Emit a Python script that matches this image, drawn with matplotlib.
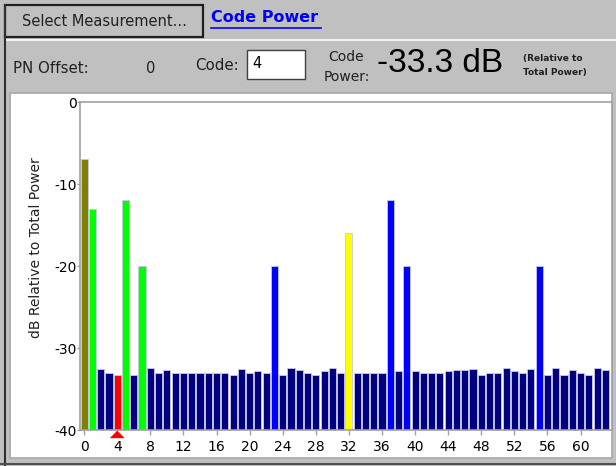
import matplotlib.pyplot as plt
import numpy as np
from matplotlib.patches import Rectangle, Polygon
from matplotlib.transforms import blended_transform_factory

# Code domain power, 64 Walsh codes, dB relative to total power
codes = np.arange(64)
power_db = [-7.0, -13.0, -32.6, -33.0, -33.3, -12.0, -33.3, -20.0,
            -32.4, -33.1, -32.7, -33.1, -33.1, -33.0, -33.0, -33.1,
            -33.0, -33.0, -33.3, -32.6, -33.0, -32.8, -33.0, -20.0,
            -33.3, -32.4, -32.7, -33.1, -33.3, -32.8, -32.4, -33.0,
            -16.0, -33.1, -33.1, -33.1, -33.0, -12.0, -32.8, -20.0,
            -32.8, -33.1, -33.1, -33.0, -32.8, -32.7, -32.7, -32.6,
            -33.3, -33.0, -33.0, -32.4, -32.8, -33.0, -32.6, -20.0,
            -33.3, -32.4, -33.3, -32.7, -33.0, -33.3, -32.4, -32.7]
pilot_codes = [0]
green_codes = [1, 5, 7]
sync_codes = [32]
blue_codes = [23, 37, 39, 55]
selected_code = 4
pn_offset = 0

W, H = 616, 466
BG = '#c0c0c0'

colors = []
for c in codes:
    if c == selected_code:
        colors.append('#ff0000')
    elif c in pilot_codes:
        colors.append('#808000')
    elif c in green_codes:
        colors.append('#00ff00')
    elif c in sync_codes:
        colors.append('#ffff00')
    elif c in blue_codes:
        colors.append('#0000ff')
    else:
        colors.append('#000080')

plt.rcParams['font.family'] = 'DejaVu Sans'
plt.rcParams['axes.unicode_minus'] = False
fig = plt.figure(figsize=(W / 100, H / 100), dpi=100, facecolor=BG)


def fx(x):
    return x / W


def fy(y):
    return 1 - y / H


def box(x0, y0, x1, y1, **kw):
    fig.patches.append(Rectangle((fx(x0), fy(y1)), fx(x1 - x0), (y1 - y0) / H,
                                 transform=fig.transFigure, **kw))


# header: button, title, separator
box(5, 5, 203, 37, facecolor=BG, edgecolor='#202020', linewidth=1.6)
fig.text(fx(104), fy(21), 'Select Measurement...', fontsize=10.5,
         ha='center', va='center', color='#202020')
fig.text(fx(211), fy(18), 'Code Power', fontsize=11.5, fontweight='bold',
         color='#0000ff', ha='left', va='center')
fig.lines.append(plt.Line2D([fx(211), fx(321)], [fy(28), fy(28)],
                            transform=fig.transFigure, color='#0000ff', lw=1.2))
fig.lines.append(plt.Line2D([fx(5), fx(616)], [fy(39.5), fy(39.5)],
                            transform=fig.transFigure, color='white', lw=1.2))
fig.lines.append(plt.Line2D([fx(4.5), fx(4.5)], [fy(5), fy(466)],
                            transform=fig.transFigure, color='#303030', lw=1.5))

# readout row
fig.text(fx(13), fy(68), 'PN Offset:', fontsize=10.8, ha='left', va='center', color='#202020')
fig.text(fx(151), fy(68), str(pn_offset), fontsize=10.5, ha='center', va='center', color='#202020')
fig.text(fx(195), fy(65), 'Code:', fontsize=10.8, ha='left', va='center', color='#202020')
box(247, 50, 305, 79, facecolor='white', edgecolor='#404040', linewidth=1.0)
fig.text(fx(252), fy(63), str(selected_code), fontsize=10.5, ha='left', va='center')
fig.text(fx(346), fy(57), 'Code', fontsize=10, ha='center', va='center', color='#202020')
fig.text(fx(347), fy(77), 'Power:', fontsize=10, ha='center', va='center', color='#202020')
fig.text(fx(377), fy(64), f'{power_db[selected_code]:.1f} dB', fontsize=24,
         family='Liberation Sans', ha='left', va='center', color='black')
fig.text(fx(523), fy(58), '(Relative to', fontsize=6.5, fontweight='bold',
         ha='left', va='center', color='#202020')
fig.text(fx(523), fy(73), 'Total Power)', fontsize=6.5, fontweight='bold',
         ha='left', va='center', color='#202020')

# chart panel
box(10, 93, 612, 458, facecolor='white', edgecolor='#a8a8a8', linewidth=1.2)
fig.lines.append(plt.Line2D([fx(0), fx(616)], [fy(464), fy(464)],
                            transform=fig.transFigure, color='#505050', lw=1.5))

ax = fig.add_axes([fx(80), fy(430), (612 - 80) / W, (430 - 102) / H])
ax.set_zorder(5)
ax.set_facecolor('white')
base = -40
ax.bar(codes, np.array(power_db) - base, bottom=base, width=0.86,
       color=colors, edgecolor='#c8c8e8', linewidth=0.6)
ax.set_xlim(-0.5, 63.8)
ax.set_ylim(-40, 0)
ax.set_xticks(np.arange(0, 61, 4))
ax.set_yticks([0, -10, -20, -30, -40])
for s in ax.spines.values():
    s.set_color('#a0a0a0')
    s.set_linewidth(1.2)
ax.tick_params(axis='x', colors='#a0a0a0', labelcolor='black', length=3.5,
               width=1, labelsize=10, pad=4)
ax.tick_params(axis='y', colors='#a0a0a0', labelcolor='black', length=2.5,
               width=1, labelsize=10, pad=0)

# selected code marker below the axis (flat triangle)
trans = blended_transform_factory(ax.transData, ax.transAxes)
ax.add_patch(Polygon([(selected_code - 0.9, -0.025), (selected_code + 0.9, -0.025),
                      (selected_code, -0.002)], closed=True, facecolor='#ff0000',
                     edgecolor='none', transform=trans, clip_on=False, zorder=6))

fig.text(fx(36), fy(248), 'dB Relative to Total Power', rotation=90,
         fontsize=10, ha='center', va='center', color='#202020')

fig.savefig('out.png', dpi=100, facecolor=BG)
